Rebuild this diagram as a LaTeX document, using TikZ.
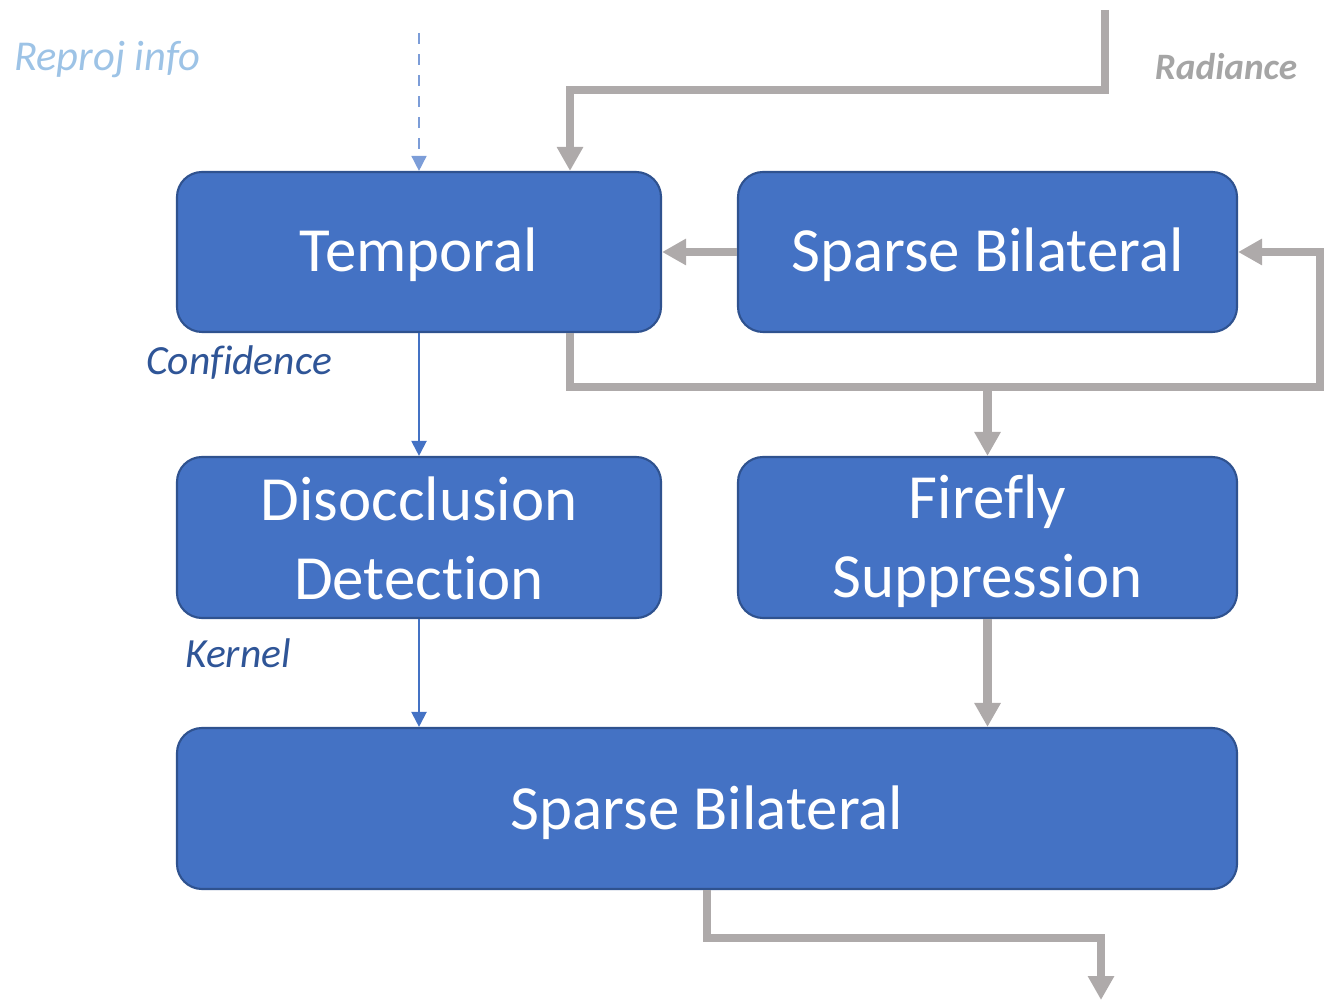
\documentclass[tikz,border=0pt]{standalone}
\usepackage{fontspec}
\setmainfont{Carlito}[Ligatures=NoCommon]
\usepackage{tikz}
\usetikzlibrary{calc,arrows.meta}

\definecolor{boxblue}{HTML}{4472C4}
\definecolor{boxedge}{HTML}{2F528F}
\definecolor{flowgrey}{HTML}{AEAAAA}
\definecolor{labelblue}{HTML}{2F5597}
\definecolor{lightlabel}{HTML}{9DC3E6}
\definecolor{dashblue}{HTML}{7C9DD8}
\definecolor{radgrey}{HTML}{A5A5A5}

% lower the box text a little without changing its size
\newcommand{\lift}[2][1.2pt]{\raisebox{-#1}[\height][\depth]{\begin{tabular}{@{}c@{}}#2\end{tabular}}}

\tikzset{
	stage/.style={draw=boxedge, line width=0.6pt, fill=boxblue, rounded corners=0.25cm,
		text=white, inner sep=0pt, font=\fontsize{17.9}{22.4}\selectfont},
	greyflow/.style={draw=flowgrey, line width=2.3pt, -{Triangle[width=0.25cm,length=0.24cm]}},
	blueflow/.style={draw=boxblue, line width=0.6pt, -{Triangle[width=0.15cm,length=0.15cm]}},
	tag/.style={font=\fontsize{11.8}{14}\selectfont\itshape}
}

\begin{document}
\begin{tikzpicture}
		%%%%% START %%%%%
		\useasboundingbox (0, 0) rectangle (13.26, -10.03);
		
		\node[stage, minimum width=4.84cm, minimum height=1.60cm] (temporal) at (4.19, -2.52) {\lift{Temporal}};
		\node[stage, minimum width=4.99cm, minimum height=1.60cm] (sbtop) at (9.875, -2.52) {\lift{Sparse Bilateral}};
		\node[stage, minimum width=4.84cm, minimum height=1.61cm] (disocc) at (4.19, -5.375) {\lift[2.0pt]{Disocclusion\\Detection}};
		\node[stage, minimum width=4.99cm, minimum height=1.61cm] (firefly) at (9.875, -5.375) {\lift[1.4pt]{Firefly\\Suppression}};
		\node[stage, minimum width=10.60cm, minimum height=1.61cm] (sbbottom) at (7.07, -8.085) {\lift[1.4pt]{Sparse Bilateral}};
		
		\node[tag, text=lightlabel, font=\fontsize{12.1}{14}\selectfont\itshape] (reprojlbl) at (1.075, -0.595) {Reproj info};
		\node[tag, text=radgrey, font=\fontsize{10.6}{13}\selectfont\bfseries\itshape] (radlbl) at (12.26, -0.67) {Radiance};
		\node[tag, text=labelblue] (conflbl) at (2.39, -3.625) {Confidence};
		\node[tag, text=labelblue] (kernlbl) at (2.38, -6.53) {Kernel};
		
		\coordinate (reproj) at (4.19, -0.33);
		\coordinate (radin) at (11.05, -0.10);
		\coordinate (loopturn) at (13.20, -3.87);
		\coordinate (outend) at (11.01, -10.00);
		
		% reprojection input
		\draw[blueflow, draw=dashblue, dashed, line width=0.45pt] (reproj) -- (temporal.north);
		
		% radiance path
		\draw[greyflow] (radin) -- ++(0, -0.80) -| ([xshift=1.51cm]temporal.north);
		\draw[greyflow] (sbtop.west) -- (temporal.east);
		\draw[greyflow] ([xshift=1.51cm]temporal.south) |- (loopturn) |- (sbtop.east);
		\draw[greyflow] (firefly.north |- loopturn) -- (firefly.north);
		\draw[greyflow] (firefly.south) -- (firefly.south |- sbbottom.north);
		\draw[greyflow] (sbbottom.south) -- ++(0, -0.48) -| (outend);
		
		% side data
		\draw[blueflow] (temporal.south) -- (disocc.north);
		\draw[blueflow] (disocc.south) -- (disocc.south |- sbbottom.north);
		%%%%% END %%%%%
	\end{tikzpicture}
\end{document}
